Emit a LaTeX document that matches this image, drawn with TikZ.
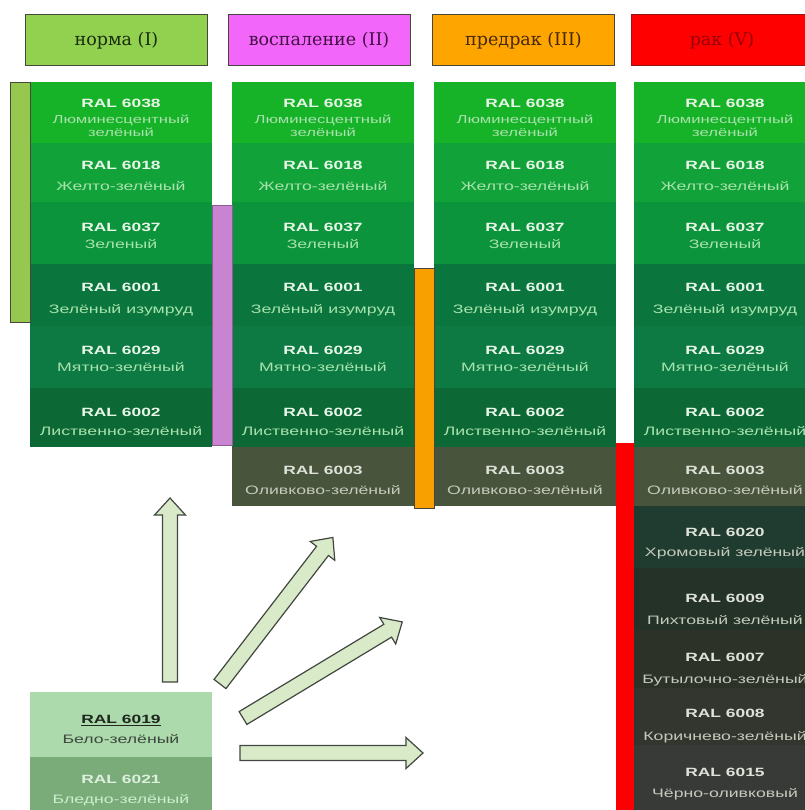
\documentclass[tikz,border=0pt]{standalone}
\usepackage{fontspec}
\newfontfamily\cellfont[FakeStretch=1.45]{Liberation Sans}
\newfontfamily\headfont{DejaVu Serif}
\definecolor{hnorm}{RGB}{146,208,80}
\definecolor{hinfl}{RGB}{242,102,250}
\definecolor{hpre}{RGB}{255,165,0}
\definecolor{hcanc}{RGB}{255,0,0}
\definecolor{tnorm}{RGB}{25,45,15}
\definecolor{tinfl}{RGB}{70,15,70}
\definecolor{tpre}{RGB}{70,40,10}
\definecolor{tcanc}{RGB}{150,0,10}
\definecolor{hline}{RGB}{70,70,60}
\definecolor{hlinec}{RGB}{150,20,20}
\definecolor{bnorm}{RGB}{150,200,80}
\definecolor{binfl}{RGB}{200,132,208}
\definecolor{bpre}{RGB}{248,160,0}
\definecolor{bcanc}{RGB}{250,0,0}
\definecolor{c6038}{RGB}{22,178,40}
\definecolor{c6018}{RGB}{18,162,58}
\definecolor{c6037}{RGB}{12,148,60}
\definecolor{c6001}{RGB}{10,118,62}
\definecolor{c6029}{RGB}{12,122,66}
\definecolor{c6002}{RGB}{12,104,52}
\definecolor{c6003}{RGB}{72,84,60}
\definecolor{c6020}{RGB}{32,60,48}
\definecolor{c6009}{RGB}{36,50,40}
\definecolor{c6007}{RGB}{44,50,40}
\definecolor{c6008}{RGB}{50,54,46}
\definecolor{c6015}{RGB}{56,58,56}
\definecolor{c6019}{RGB}{172,218,172}
\definecolor{c6021}{RGB}{122,172,122}
\definecolor{arrfill}{RGB}{216,234,200}
\definecolor{arrline}{RGB}{65,70,65}
\definecolor{codelight}{RGB}{232,246,232}
\definecolor{namelight}{RGB}{168,226,172}
\definecolor{codedark}{RGB}{222,226,216}
\definecolor{namedark}{RGB}{196,202,188}
\definecolor{codepale}{RGB}{30,40,30}
\definecolor{namepale}{RGB}{60,72,60}

\newcommand\rcell[9]{%
  \node[cellbox, fill=#5, minimum height={#4-#3}, anchor=north west] (#1) at (#2,#3) {};
  \node[codetxt] (#1c) at ({#2+91},{#6+4.3}) {#7};
  \node[nametxt] (#1n) at ({#2+91},{#8+3.3}) {#9};
}
\newcommand\rcellthree[2]{%
  \node[cellbox, fill=c6038, minimum height=61, anchor=north west] (#1) at (#2,82) {};
  \node[codetxt] (#1c) at ({#2+91},107.3) {RAL 6038};
  \node[nametxt, font=\cellfont\fontsize{11.5}{13}\selectfont] (#1n) at ({#2+91},124) {Люминесцентный};
  \node[nametxt, font=\cellfont\fontsize{11.5}{13}\selectfont] (#1m) at ({#2+91},136.5) {зелёный};
}
\newcommand\greenrows[2]{%
  \rcellthree{#1a}{#2}
  \rcell{#1b}{#2}{143}{202}{c6018}{165}{RAL 6018}{187}{Желто-зелёный}
  \rcell{#1c}{#2}{202}{264}{c6037}{227}{RAL 6037}{245}{Зеленый}
  \rcell{#1d}{#2}{264}{326}{c6001}{287}{RAL 6001}{310}{Зелёный изумруд}
  \rcell{#1e}{#2}{326}{388}{c6029}{350}{RAL 6029}{368}{Мятно-зелёный}
  \rcell{#1f}{#2}{388}{447}{c6002}{412}{RAL 6002}{432}{Лиственно-зелёный}
}
\newcommand\blockarr[3]{%
  \begin{scope}[shift={(#1)}, rotate=#2]
    \draw[blockarrow] (0,-7.5) -- ({#3-17},-7.5) -- ({#3-17},-15.5) -- (#3,0)
      -- ({#3-17},15.5) -- ({#3-17},7.5) -- (0,7.5) -- cycle;
  \end{scope}}

\begin{document}
\begin{tikzpicture}[x=1pt,y=-1pt,
  header/.style={draw=hline, line width=1pt, minimum width=182, minimum height=51,
    inner sep=0pt, font=\headfont\fontsize{17.5}{20}\selectfont},
  cellbox/.style={inner sep=0pt, minimum width=182, draw=none},
  codetxt/.style={anchor=base, inner sep=0pt, text=codelight,
    font=\cellfont\bfseries\fontsize{12}{14}\selectfont},
  nametxt/.style={anchor=base, inner sep=0pt, text=namelight,
    font=\cellfont\fontsize{12.2}{14}\selectfont},
  sidebar/.style={draw=hline, line width=0.8pt},
  blockarrow/.style={draw=arrline, fill=arrfill, line width=1.2pt, line join=miter}]
\useasboundingbox (0,0) rectangle (804,810);
\fill[white] (0,0) rectangle (804,810);

% headers
\node[header, fill=hnorm, text=tnorm] (h1) at (116.5,40.5) {норма (I)};
\node[header, fill=hinfl, text=tinfl] (h2) at (319,40.5) {воспаление (II)};
\node[header, fill=hpre, text=tpre] (h3) at (523.5,40.5) {предрак (III)};
\node[header, fill=hcanc, text=tcanc, draw=hlinec] (h4) at (722,40.5) {рак (V)};

% columns
\greenrows{a}{30}
\greenrows{b}{232}
\greenrows{c}{434}
\greenrows{d}{634}
\begin{scope}[codetxt/.append style={text=codedark}, nametxt/.append style={text=namedark}]
  \rcell{bg}{232}{447}{506}{c6003}{470}{RAL 6003}{491}{Оливково-зелёный}
  \rcell{cg}{434}{447}{506}{c6003}{470}{RAL 6003}{491}{Оливково-зелёный}
  \rcell{dg}{634}{447}{506}{c6003}{470}{RAL 6003}{491}{Оливково-зелёный}
  \rcell{dh}{634}{506}{568}{c6020}{532}{RAL 6020}{553}{Хромовый зелёный}
  \rcell{di}{634}{568}{630}{c6009}{598}{RAL 6009}{621}{Пихтовый зелёный}
  \rcell{dj}{634}{630}{688}{c6007}{657}{RAL 6007}{680}{Бутылочно-зелёный}
  \rcell{dk}{634}{688}{745}{c6008}{713}{RAL 6008}{737}{Коричнево-зелёный}
  \rcell{dl}{634}{745}{815}{c6015}{772}{RAL 6015}{794}{Чёрно-оливковый}
\end{scope}

% side bars
\draw[sidebar, fill=bnorm] (10,82) rectangle (30,322);
\draw[sidebar, fill=binfl, draw=binfl!70!black] (212,205) rectangle (232,445);
\draw[sidebar, fill=bpre] (414,268) rectangle (434,508);
\fill[bcanc] (616,443) rectangle (634,815);

% bottom-left cells
\begin{scope}[codetxt/.append style={text=codepale}, nametxt/.append style={text=namepale}]
  \rcell{e1}{30}{692}{757}{c6019}{719}{\underline{RAL 6019}}{740}{Бело-зелёный}
\end{scope}
\begin{scope}[codetxt/.append style={text=codelight!90!c6021}, nametxt/.append style={text=namelight!60!white}]
  \rcell{e2}{30}{757}{815}{c6021}{779}{RAL 6021}{800}{Бледно-зелёный}
\end{scope}

% block arrows
\coordinate (t1) at (170,682);
\coordinate (t2) at (220,684);
\coordinate (t3) at (243,718);
\coordinate (t4) at (240,753);
\blockarr{t1}{90}{184}
\blockarr{t2}{52.4}{185}
\blockarr{t3}{31.1}{186}
\blockarr{t4}{0}{183}
\end{tikzpicture}
\end{document}
